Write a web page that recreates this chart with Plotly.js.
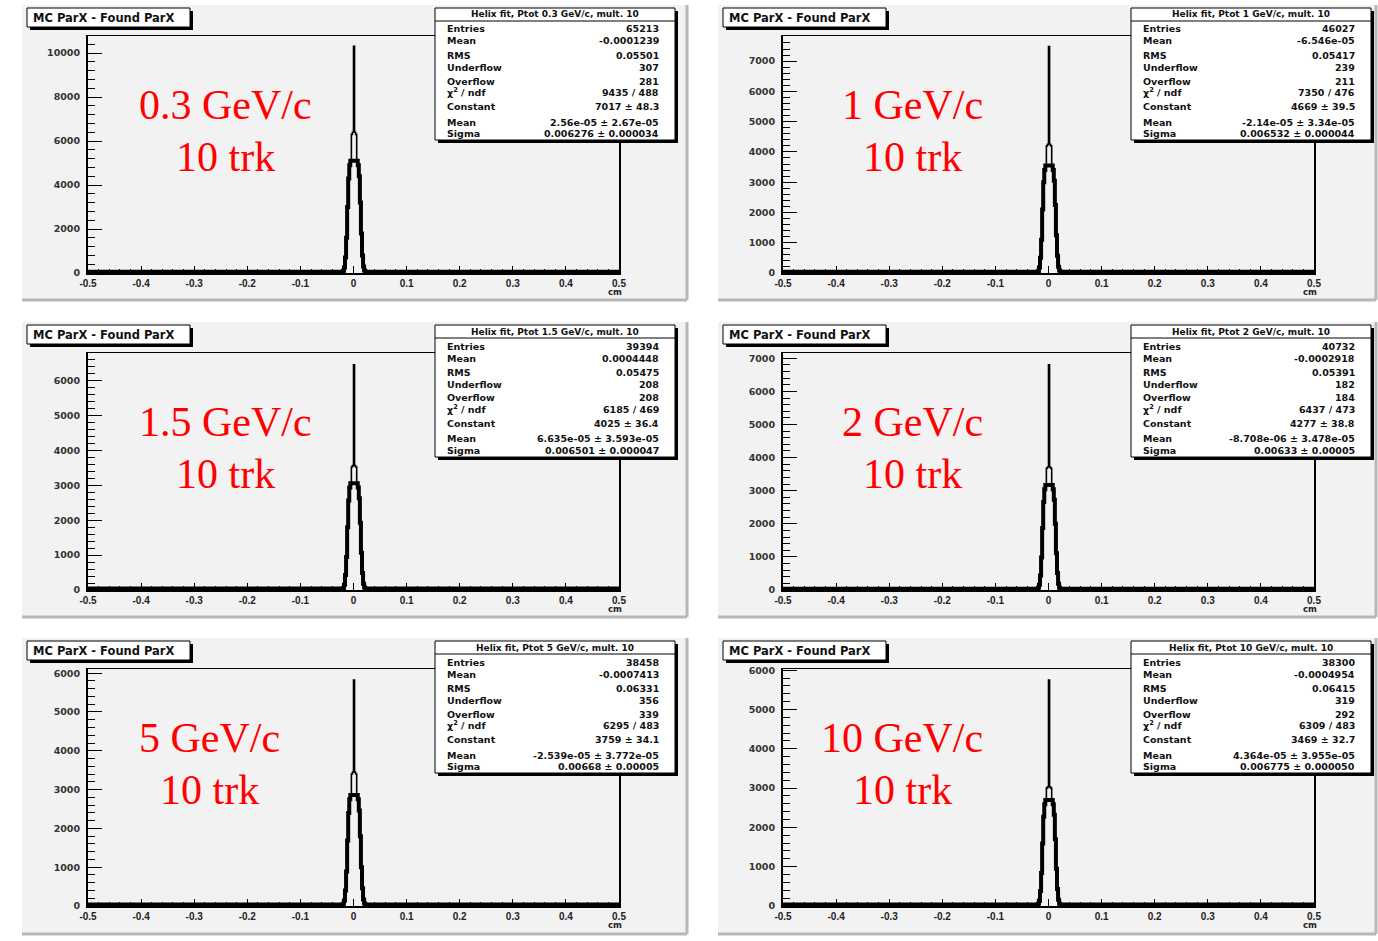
<!DOCTYPE html>
<html><head><meta charset="utf-8">
<script src="https://cdn.plot.ly/plotly-3.0.1.min.js"></script>
<style>html,body{margin:0;padding:0;background:#fff}#chart{width:1378px;height:941px}</style>
</head><body><div id="chart"></div>
<script>
// ---------------- data ----------------
const histTitle = 'MC ParX - Found ParX';
const momentumLabels = ['0.3 GeV/c','1 GeV/c','1.5 GeV/c','2 GeV/c','5 GeV/c','10 GeV/c'];
const trkLabel = '10 trk';
const statTitles = ['Helix fit, Ptot 0.3 GeV/c, mult. 10','Helix fit, Ptot 1 GeV/c, mult. 10',
  'Helix fit, Ptot 1.5 GeV/c, mult. 10','Helix fit, Ptot 2 GeV/c, mult. 10',
  'Helix fit, Ptot 5 GeV/c, mult. 10','Helix fit, Ptot 10 GeV/c, mult. 10'];
const entries = ['65213','46027','39394','40732','38458','38300'];
const means = ['-0.0001239','-6.546e-05','0.0004448','-0.0002918','-0.0007413','-0.0004954'];
const rmsVals = ['0.05501','0.05417','0.05475','0.05391','0.06331','0.06415'];
const underflows = ['307','239','208','182','356','319'];
const overflows = ['281','211','208','184','339','292'];
const chi2ndf = ['9435 / 488','7350 / 476','6185 / 469','6437 / 473','6295 / 483','6309 / 483'];
const constants = ['7017 ± 48.3','4669 ± 39.5','4025 ± 36.4','4277 ± 38.8','3759 ± 34.1','3469 ± 32.7'];
const fitMeans = ['2.56e-05 ± 2.67e-05','-2.14e-05 ± 3.34e-05','6.635e-05 ± 3.593e-05',
  '-8.708e-06 ± 3.478e-05','-2.539e-05 ± 3.772e-05','4.364e-05 ± 3.955e-05'];
const sigmas = ['0.006276 ± 0.000034','0.006532 ± 0.000044','0.006501 ± 0.000047',
  '0.00633 ± 0.00005','0.00668 ± 0.00005','0.006775 ± 0.000050'];

// histogram bin edges in the peak region (cm), bin width 0.002
const peakEdges = [-0.020,-0.018,-0.016,-0.014,-0.012,-0.010,-0.008,-0.006,-0.004,-0.002,0.000,
  0.002,0.004,0.006,0.008,0.010,0.012,0.014,0.016,0.018,0.020,0.022];
const counts03 = [100,250,700,1600,3000,4300,4900,5100,6300,6400,10300,6400,6300,5100,4900,4400,3200,1800,800,300,110];
const counts1  = [70,180,500,1100,2100,3000,3400,3550,4200,4250,7480,4250,4200,3550,3400,3050,2250,1250,570,210,80];
const counts15 = [60,150,430,950,1800,2570,2940,3060,3530,3570,6460,3570,3530,3060,2940,2630,1930,1070,490,180,70];
const counts2  = [65,160,440,980,1870,2660,3040,3170,3680,3716,6800,3716,3680,3170,3040,2730,2000,1110,510,190,70];
const counts5  = [60,140,400,890,1690,2400,2750,2860,3400,3450,5825,3450,3400,2860,2750,2460,1800,1000,460,170,65];
const counts10 = [55,135,380,840,1590,2270,2590,2700,3000,3030,5750,3030,3000,2700,2590,2320,1700,950,430,160,60];
const tailLevels = [60,45,40,40,38,38];
const allCounts = [counts03,counts1,counts15,counts2,counts5,counts10];
// level up to which the histogram outline looks heavy in the picture
const heavyLevels = [5100,3550,3060,3170,2860,2700];

const xTickVals = [-0.5,-0.4,-0.3,-0.2,-0.1,0,0.1,0.2,0.3,0.4,0.5];
const xTickText = ['-0.5','-0.4','-0.3','-0.2','-0.1','0','0.1','0.2','0.3','0.4','0.5'];
const yMax = [10773,7830,6800,7160,6108,6030];
const yMajor = [2000,1000,1000,1000,1000,1000];
const yMinor = [400,200,200,200,200,200];

// ---------------- geometry ----------------
const W = 1378, H = 941;
const px = x => x / W, py = y => 1 - y / H;
const colX0 = [88, 783], colX1 = [619, 1314];
const rowY0 = [36, 353, 669], rowY1 = [273, 590, 906];
const padX = [[22, 687], [718, 1376]];
const padY = [[5, 300], [322, 617], [638, 934]];
const boldFont = 'DejaVu Sans, Verdana, sans-serif';
const tickFontX = 'Liberation Sans, Arial, Helvetica, sans-serif';

const data = [], shapes = [], annotations = [];
const layout = {
  width: W, height: H, margin: {l:0, r:0, t:0, b:0},
  paper_bgcolor: '#ffffff', plot_bgcolor: 'rgba(0,0,0,0)', showlegend: false
};

function rect(x0, y0, x1, y1, fill, line, layer, lw) {
  shapes.push({type:'rect', xref:'paper', yref:'paper', x0:px(x0), x1:px(x1), y0:py(y1), y1:py(y0),
    fillcolor: fill, line: {color: line || fill, width: lw === undefined ? 1 : lw}, layer: layer || 'above'});
}
function lineSh(x0, y0, x1, y1, color, w, layer) {
  shapes.push({type:'line', xref:'paper', yref:'paper', x0:px(x0), x1:px(x1), y0:py(y0), y1:py(y1),
    line:{color:color, width:w}, layer: layer || 'above'});
}
function txt(x, y, s, opts) {
  annotations.push(Object.assign({xref:'paper', yref:'paper', x:px(x), y:py(y), text:s, showarrow:false,
    xanchor:'left', yanchor:'middle', font:{family:boldFont, size:9.5, color:'#111', weight:'bold'}}, opts || {}));
}

for (let i = 0; i < 6; i++) {
  const c = i % 2, r = Math.floor(i / 2);
  const n = i === 0 ? '' : String(i + 1);
  const ox = c === 0 ? 0 : 696;  // column offset of pad decorations
  const oy = r === 0 ? 0 : (r === 1 ? 317 : 633);

  // pad background and shadow
  rect(padX[c][0], padY[r][0], padX[c][1], padY[r][1], '#f2f2f2', '#f2f2f2', 'below', 0);
  lineSh(padX[c][0], padY[r][1], padX[c][1], padY[r][1], '#b8b8b8', 3, 'below');
  lineSh(padX[c][1], padY[r][0], padX[c][1], padY[r][1], '#b8b8b8', 3, 'below');

  // histogram: heavy outline for the body, thin outline for the full contents
  const cts = allCounts[i], t = tailLevels[i];
  const xs = [-0.5].concat(peakEdges).concat([0.5]);
  const ys = [t].concat(cts).concat([t, t]);
  const ysHeavy = ys.map(v => Math.min(v, heavyLevels[i]));
  data.push({type:'scatter', mode:'lines', x:xs, y:ysHeavy, line:{shape:'hv', color:'#000', width:4},
    xaxis:'x' + n, yaxis:'y' + n, hoverinfo:'skip'});
  data.push({type:'scatter', mode:'lines', x:xs, y:ys, line:{shape:'hv', color:'#000', width:1.6},
    xaxis:'x' + n, yaxis:'y' + n, hoverinfo:'skip'});

  layout['xaxis' + n] = {
    domain:[px(colX0[c]), px(colX1[c])], anchor:'y' + n, range:[-0.5, 0.5],
    tickvals:xTickVals, ticktext:xTickText, ticks:'inside', ticklen:7, tickwidth:1, tickcolor:'#000',
    minor:{dtick:0.02, tick0:0, ticks:'inside', ticklen:4, tickwidth:1, tickcolor:'#000'},
    showline:true, linecolor:'#000', linewidth:1.5, mirror:true, showgrid:false, zeroline:false,
    tickfont:{family:tickFontX, size:10, color:'#222', weight:'bold'}, ticklabelstandoff:0, fixedrange:true
  };
  layout['yaxis' + n] = {
    domain:[py(rowY1[r]), py(rowY0[r])], anchor:'x' + n, range:[0, yMax[i]],
    tick0:0, dtick:yMajor[i], tickformat:'d', ticks:'inside', ticklen:14, tickwidth:1, tickcolor:'#000',
    minor:{dtick:yMinor[i], ticks:'inside', ticklen:7, tickwidth:1, tickcolor:'#000'},
    showline:true, linecolor:'#000', linewidth:2, mirror:true, showgrid:false, zeroline:false,
    tickfont:{family:boldFont, size:9.5, color:'#333', weight:'bold'}, ticklabelstandoff:4, fixedrange:true
  };

  // title box
  rect(30 + ox, 11 + oy, 193 + ox, 30 + oy, '#000', '#000', 'above', 0);
  rect(27 + ox, 8 + oy, 190 + ox, 27 + oy, '#ffffff', '#000', 'above', 1);
  txt(31 + ox, 17.5 + oy, histTitle, {font:{family:boldFont, size:11.5, color:'#111', weight:'bold'}});

  // stats box
  const sx0 = 435 + ox, sx1 = 675 + ox, sy0 = 8 + oy, sy1 = 140 + oy;
  rect(sx0 + 3, sy0 + 3, sx1 + 3, sy1 + 3, '#000', '#000', 'above', 0);
  rect(sx0, sy0, sx1, sy1, '#ffffff', '#000', 'above', 1);
  lineSh(sx0, sy0 + 13, sx1, sy0 + 13, '#000', 1);
  txt((sx0 + sx1) / 2, sy0 + 6.5, statTitles[i], {xanchor:'center', font:{family:boldFont, size:9, color:'#111', weight:'bold'}});
  const rowsL = ['Entries','Mean','RMS','Underflow','Overflow','χ<sup>2</sup> / ndf','Constant','Mean','Sigma'];
  const rowsR = [entries[i], means[i], rmsVals[i], underflows[i], overflows[i], chi2ndf[i], constants[i], fitMeans[i], sigmas[i]];
  const rowDy = [21, 33, 47, 59, 73, 84, 98, 114, 125];
  for (let k = 0; k < rowsL.length; k++) {
    txt(sx0 + 10, sy0 + rowDy[k], rowsL[k]);
    txt(sx1 - 14, sy0 + rowDy[k], rowsR[k], {xanchor:'right'});
  }

  // axis unit
  txt(colX1[c] - 4, rowY1[r] + 19, 'cm', {xanchor:'center', font:{family:boldFont, size:8.5, color:'#222', weight:'bold'}});
}

// red labels
const labelCX = [226, 912, 226, 912, 210, 902];
const labelRow = [0, 0, 1, 1, 2, 2];
for (let i = 0; i < 6; i++) {
  const oy = [0, 317, 633][labelRow[i]];
  const f = {family:'Liberation Serif, Times New Roman, serif', size:42, color:'#ff0000'};
  txt(labelCX[i], 105 + oy, momentumLabels[i], {xanchor:'center', font:f});
  txt(labelCX[i], 157 + oy, trkLabel, {xanchor:'center', font:f});
}

layout.shapes = shapes;
layout.annotations = annotations;
Plotly.newPlot('chart', data, layout, {staticPlot:true, displayModeBar:false});
</script></body></html>
